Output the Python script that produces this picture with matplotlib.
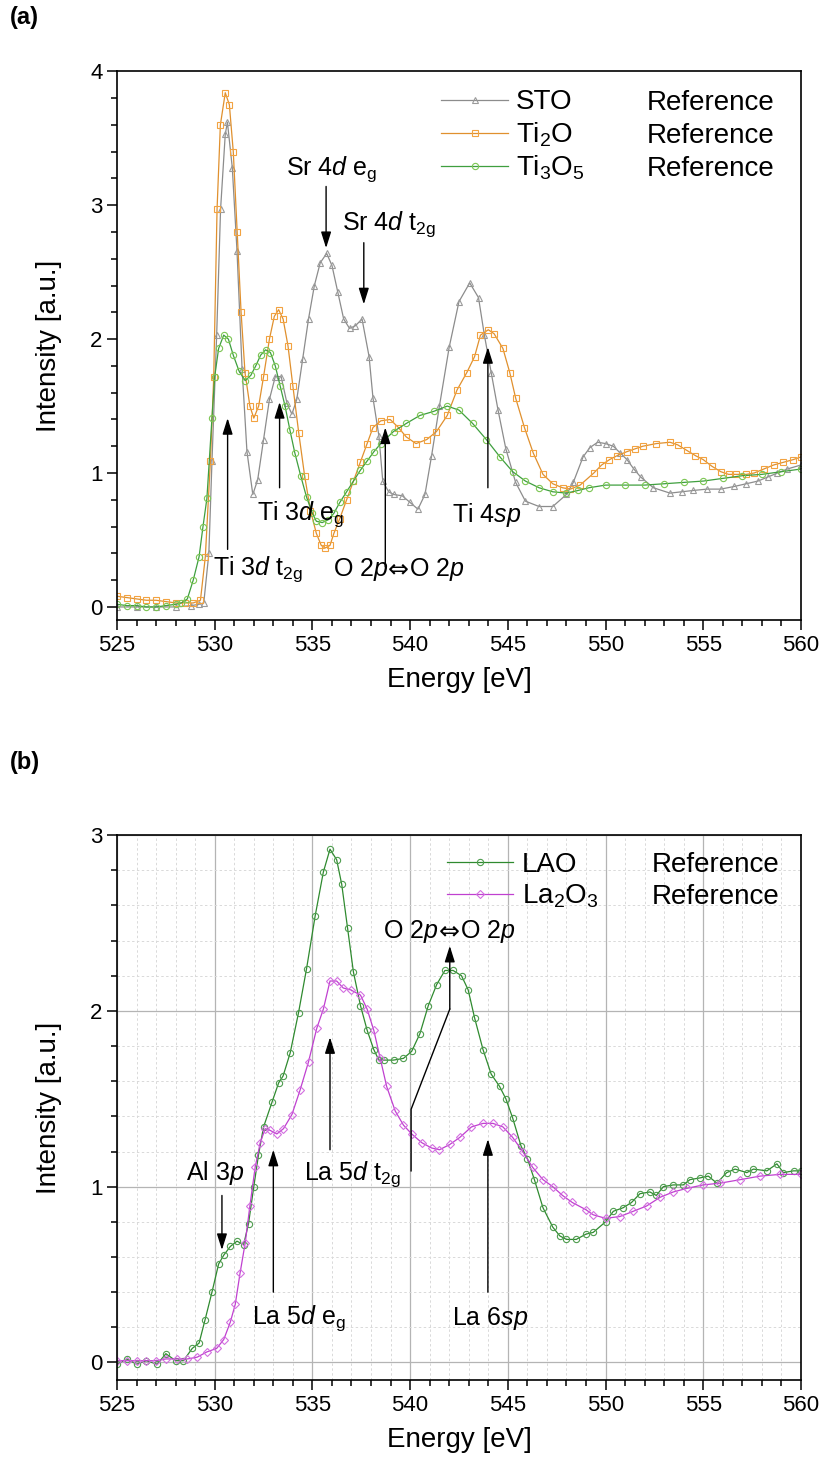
import numpy as np
import matplotlib
matplotlib.use('Agg')
import matplotlib.pyplot as plt
from matplotlib.ticker import MultipleLocator
from matplotlib.offsetbox import TextArea, HPacker, AnnotationBbox

plt.rcParams['font.family'] = ['Liberation Sans', 'DejaVu Sans']
plt.rcParams['mathtext.fontset'] = 'custom'
plt.rcParams['mathtext.rm'] = 'Liberation Sans'
plt.rcParams['mathtext.it'] = 'Liberation Sans:italic'
plt.rcParams['mathtext.bf'] = 'Liberation Sans:bold'

# ---------------- panel (a) data ----------------
sto_e = [525.0, 526.0, 527.0, 528.0, 528.8, 529.2, 529.44, 529.7, 529.86, 530.1, 530.3, 530.54, 530.65,
         530.9, 531.14, 531.4, 531.65, 531.95, 532.2, 532.5, 532.8, 533.1, 533.4, 533.7, 533.95, 534.2,
         534.5, 534.8, 535.1, 535.4, 535.73, 536.0, 536.3, 536.6, 536.9, 537.2, 537.54, 537.9, 538.1,
         538.4, 538.6, 538.9, 539.15, 539.6, 540.0, 540.4, 540.76, 541.1, 541.5, 542.0, 542.5, 543.05,
         543.5, 543.8, 544.15, 544.5, 544.9, 545.4, 545.9, 546.6, 547.3, 548.0, 548.35, 548.85, 549.2,
         549.6, 550.0, 550.4, 550.75, 551.1, 551.45, 551.8, 552.45, 553.3, 553.9, 554.5, 555.2, 555.9,
         556.6, 557.2, 557.8, 558.3, 558.8, 559.3, 560.0]
sto_i = [0.0, 0.0, 0.0, 0.0, 0.01, 0.02, 0.03, 0.4, 1.09, 2.03, 2.97, 3.53, 3.62,
         3.28, 2.66, 1.78, 1.16, 0.84, 0.95, 1.25, 1.55, 1.72, 1.72, 1.52, 1.44, 1.55,
         1.85, 2.15, 2.4, 2.57, 2.64, 2.55, 2.35, 2.15, 2.08, 2.1, 2.15, 1.87, 1.56,
         1.28, 0.94, 0.86, 0.84, 0.83, 0.78, 0.73, 0.84, 1.13, 1.5, 1.94, 2.28, 2.42,
         2.31, 2.03, 1.75, 1.47, 1.18, 0.93, 0.79, 0.75, 0.75, 0.84, 0.93, 1.12, 1.19,
         1.23, 1.22, 1.2, 1.15, 1.1, 1.03, 0.97, 0.89, 0.85, 0.86, 0.87, 0.88, 0.88,
         0.9, 0.92, 0.94, 0.97, 1.0, 1.03, 1.06]

ti2o_e = [525.0, 525.5, 526.0, 526.5, 527.0, 527.5, 528.0, 528.5, 528.9, 529.27, 529.52, 529.78, 529.95,
          530.12, 530.29, 530.54, 530.75, 530.95, 531.15, 531.35, 531.55, 531.8, 532.0, 532.25, 532.5,
          532.8, 533.05, 533.27, 533.5, 533.75, 534.0, 534.3, 534.6, 534.9, 535.2, 535.45, 535.65, 535.9,
          536.1, 536.4, 536.75, 537.1, 537.45, 537.8, 538.1, 538.5, 538.98, 539.4, 539.8, 540.3, 540.85,
          541.35, 541.9, 542.4, 542.9, 543.3, 543.6, 544.0, 544.3, 544.75, 545.1, 545.4, 545.85, 546.3,
          546.8, 547.3, 547.8, 548.2, 548.7, 549.4, 549.8, 550.2, 550.6, 551.1, 551.5, 551.9, 552.6,
          553.3, 553.7, 554.15, 554.6, 555.0, 555.45, 555.9, 556.3, 556.7, 557.2, 557.6, 558.1, 558.6,
          559.1, 559.6, 560.0]
ti2o_i = [0.08, 0.07, 0.06, 0.05, 0.05, 0.04, 0.03, 0.03, 0.03, 0.05, 0.375, 1.09, 1.72,
          2.97, 3.6, 3.84, 3.75, 3.4, 2.8, 2.2, 1.75, 1.5, 1.41, 1.5, 1.72,
          2.0, 2.17, 2.22, 2.15, 1.95, 1.65, 1.3, 0.98, 0.72, 0.55, 0.46, 0.44, 0.46,
          0.55, 0.66, 0.8, 0.94, 1.08, 1.22, 1.34, 1.39, 1.4, 1.34, 1.27, 1.22, 1.25,
          1.31, 1.43, 1.62, 1.75, 1.87, 2.03, 2.07, 2.04, 1.93, 1.75, 1.56, 1.34, 1.15,
          0.99, 0.92, 0.89, 0.88, 0.91, 1.0, 1.06, 1.1, 1.13, 1.16, 1.18, 1.2, 1.22,
          1.23, 1.21, 1.17, 1.13, 1.1, 1.05, 1.01, 0.99, 0.99, 0.99, 1.0, 1.03, 1.06,
          1.08, 1.1, 1.12]

ti3o5_e = [525.0, 525.5, 526.0, 526.5, 527.0, 527.5, 528.0, 528.3, 528.6, 528.9, 529.2, 529.4, 529.6,
           529.86, 530.0, 530.2, 530.46, 530.7, 530.95, 531.25, 531.56, 531.85, 532.1, 532.35, 532.6,
           532.85, 533.1, 533.35, 533.6, 533.85, 534.1, 534.4, 534.7, 535.0, 535.2, 535.5, 535.8, 536.1,
           536.4, 536.75, 537.1, 537.45, 537.8, 538.15, 538.5, 539.15, 539.8, 540.5, 541.2, 541.9, 542.5,
           543.2, 543.9, 544.6, 545.25, 545.9, 546.6, 547.3, 548.0, 548.6, 549.15, 550.0, 551.0, 552.0,
           553.0, 554.0, 555.0, 556.0, 557.0, 558.0, 559.0, 560.0]
ti3o5_i = [0.02, 0.01, 0.01, 0.0, 0.0, 0.01, 0.02, 0.03, 0.06, 0.2, 0.375, 0.6, 0.81,
           1.41, 1.72, 1.93, 2.03, 2.0, 1.88, 1.76, 1.69, 1.73, 1.8, 1.88, 1.92,
           1.9, 1.8, 1.65, 1.5, 1.32, 1.15, 0.98, 0.82, 0.7, 0.64, 0.63, 0.65, 0.7,
           0.78, 0.86, 0.94, 1.02, 1.09, 1.16, 1.22, 1.31, 1.37, 1.43, 1.46, 1.5, 1.47,
           1.37, 1.25, 1.12, 1.01, 0.94, 0.89, 0.86, 0.85, 0.87, 0.89, 0.91, 0.91, 0.91,
           0.92, 0.93, 0.94, 0.96, 0.98, 0.99, 1.01, 1.03]

# ---------------- panel (b) data ----------------
lao_e = [525.0, 525.5, 526.0, 526.5, 527.06, 527.5, 528.0, 528.4, 528.85, 529.2, 529.5, 529.86, 530.2,
         530.46, 530.8, 531.14, 531.48, 531.73, 532.0, 532.24, 532.5, 532.93, 533.27, 533.5, 533.86,
         534.29, 534.7, 535.14, 535.56, 535.9, 536.24, 536.5, 536.8, 537.1, 537.46, 537.8, 538.14,
         538.4, 538.64, 539.15, 539.66, 540.08, 540.5, 540.93, 541.36, 541.78, 542.2, 542.63, 542.97,
         543.3, 543.73, 544.15, 544.58, 544.9, 545.25, 545.68, 546.0, 546.36, 546.8, 547.3, 547.66,
         548.0, 548.5, 549.0, 549.37, 550.0, 550.4, 550.9, 551.33, 551.76, 552.27, 552.6, 552.96,
         553.47, 553.98, 554.32, 554.84, 555.26, 555.7, 556.2, 556.63, 557.23, 557.57, 558.26, 558.77,
         559.1, 559.62, 560.0]
lao_i = [-0.01, 0.02, -0.01, 0.01, -0.01, 0.05, 0.01, 0.01, 0.08, 0.11, 0.24, 0.4, 0.56,
         0.61, 0.66, 0.69, 0.67, 0.79, 1.0, 1.18, 1.34, 1.48, 1.59, 1.63, 1.76,
         1.99, 2.24, 2.54, 2.79, 2.92, 2.86, 2.72, 2.47, 2.22, 2.03, 1.89, 1.78,
         1.72, 1.72, 1.72, 1.73, 1.77, 1.87, 2.03, 2.15, 2.23, 2.23, 2.2, 2.12,
         1.96, 1.78, 1.64, 1.57, 1.5, 1.39, 1.23, 1.16, 1.04, 0.88, 0.77, 0.72,
         0.7, 0.7, 0.73, 0.74, 0.8, 0.86, 0.88, 0.91, 0.96, 0.97, 0.95, 1.0,
         1.01, 1.01, 1.04, 1.05, 1.06, 1.02, 1.08, 1.1, 1.08, 1.1, 1.09, 1.13,
         1.08, 1.09, 1.09]

la2o3_e = [525.0, 525.5, 526.0, 526.5, 527.0, 527.5, 528.08, 528.6, 529.1, 529.6, 530.1, 530.46, 530.8,
           531.05, 531.3, 531.56, 531.8, 532.07, 532.33, 532.58, 532.84, 533.18, 533.52, 533.95, 534.37,
           534.8, 535.22, 535.56, 535.9, 536.24, 536.58, 536.95, 537.46, 537.8, 538.14, 538.47, 538.8,
           539.24, 539.66, 540.08, 540.6, 541.1, 541.5, 542.03, 542.54, 543.14, 543.73, 544.24, 544.75,
           545.25, 545.76, 546.27, 546.8, 547.3, 547.8, 548.3, 548.98, 549.37, 550.0, 550.73, 551.42,
           552.1, 552.8, 553.47, 554.15, 555.0, 555.86, 556.9, 557.9, 558.94, 560.0]
la2o3_i = [0.01, 0.01, 0.01, 0.01, 0.01, 0.02, 0.02, 0.02, 0.03, 0.06, 0.08, 0.13, 0.23,
           0.33, 0.51, 0.68, 0.89, 1.11, 1.25, 1.33, 1.32, 1.3, 1.33, 1.41, 1.55,
           1.71, 1.9, 2.01, 2.17, 2.17, 2.13, 2.12, 2.09, 2.01, 1.89, 1.73, 1.57,
           1.43, 1.35, 1.3, 1.25, 1.22, 1.21, 1.24, 1.28, 1.34, 1.36, 1.36, 1.34,
           1.28, 1.2, 1.11, 1.04, 1.0, 0.95, 0.91, 0.87, 0.84, 0.82, 0.83, 0.86,
           0.89, 0.94, 0.97, 0.99, 1.01, 1.02, 1.04, 1.06, 1.07, 1.07]

TICK_FS = 16
LAB_FS = 20
ANN_FS = 18
LEG_FS = 20

fig = plt.figure(figsize=(8.24, 14.7), dpi=100)
ax_a = fig.add_axes([0.142, 0.578, 0.830, 0.3735])
ax_b = fig.add_axes([0.142, 0.0612, 0.830, 0.3707])


def style_axes(ax, ylim, ymaj):
    ax.set_xlim(525, 560)
    ax.set_ylim(*ylim)
    ax.xaxis.set_major_locator(MultipleLocator(5))
    ax.xaxis.set_minor_locator(MultipleLocator(1))
    ax.yaxis.set_major_locator(MultipleLocator(ymaj))
    ax.yaxis.set_minor_locator(MultipleLocator(0.2))
    ax.tick_params(which='both', direction='out', top=False, right=False, labelsize=TICK_FS, width=1.1)
    ax.tick_params(which='major', length=7)
    ax.tick_params(which='minor', length=4)
    for s in ax.spines.values():
        s.set_linewidth(1.2)
    ax.set_xlabel('Energy [eV]', fontsize=LAB_FS, labelpad=8)
    ax.set_ylabel('Intensity [a.u.]', fontsize=LAB_FS, labelpad=20)


def arrow(ax, x, y0, y1):
    ax.annotate('', xy=(x, y1), xytext=(x, y0),
                arrowprops=dict(arrowstyle='-|>,head_length=0.7,head_width=0.22', color='black',
                                lw=1.0, shrinkA=0, shrinkB=0, mutation_scale=14))


def series(ax, e, v, color, lcolor, marker, ms, label):
    return ax.plot(e, v, color=lcolor, lw=0.9, marker=marker, ms=ms, mfc='none', mec=color,
                   mew=0.8, label=label)[0]


def oo_label(ax, x, y):
    # "O 2p<=>O 2p": the double arrow comes from DejaVu Sans
    parts = [TextArea(r'O 2$\mathit{p}$', textprops=dict(fontsize=ANN_FS)),
             TextArea('\u21d4', textprops=dict(fontsize=ANN_FS, family='DejaVu Sans')),
             TextArea(r'O 2$\mathit{p}$', textprops=dict(fontsize=ANN_FS))]
    box = HPacker(children=parts, align='baseline', pad=0, sep=0)
    ab = AnnotationBbox(box, (x, y), xycoords='data', frameon=False, box_alignment=(0.5, 0.5), pad=0)
    ax.add_artist(ab)


# ---------------- panel (a) ----------------
h1 = series(ax_a, sto_e, sto_i, '#9a9a9a', '#8c8c8c', '^', 4.5, 'STO')
h2 = series(ax_a, ti2o_e, ti2o_i, '#f2a341', '#e0902e', 's', 4, r'Ti$_2$O')
h3 = series(ax_a, ti3o5_e, ti3o5_i, '#7cc653', '#3f9f3f', 'o', 4.5, r'Ti$_3$O$_5$')
style_axes(ax_a, (-0.1, 4), 1)

ax_a.legend(handles=[h1, h2, h3], loc='upper left', bbox_to_anchor=(0.474, 0.967),
            frameon=False, fontsize=LEG_FS, handlelength=2.4, handletextpad=0.3,
            borderpad=0, borderaxespad=0, labelspacing=0.18, numpoints=1)
for yy in [3.76, 3.52, 3.27]:
    ax_a.text(552.1, yy, 'Reference', fontsize=LEG_FS, va='center', ha='left')

ax_a.text(536.0, 3.27, r'Sr 4$\mathit{d}$ e$_\mathrm{g}$', fontsize=ANN_FS, ha='center', va='center')
arrow(ax_a, 535.7, 3.14, 2.68)
ax_a.text(538.9, 2.86, r'Sr 4$\mathit{d}$ t$_\mathrm{2g}$', fontsize=ANN_FS, ha='center', va='center')
arrow(ax_a, 537.63, 2.72, 2.26)
ax_a.text(532.2, 0.28, r'Ti 3$\mathit{d}$ t$_\mathrm{2g}$', fontsize=ANN_FS, ha='center', va='center')
arrow(ax_a, 530.66, 0.43, 1.41)
ax_a.text(534.4, 0.69, r'Ti 3$\mathit{d}$ e$_\mathrm{g}$', fontsize=ANN_FS, ha='center', va='center')
arrow(ax_a, 533.32, 0.89, 1.53)
oo_label(ax_a, 539.4, 0.28)
arrow(ax_a, 538.73, 0.30, 1.34)
ax_a.text(543.9, 0.69, r'Ti 4$\mathit{sp}$', fontsize=ANN_FS, ha='center', va='center')
arrow(ax_a, 543.98, 0.89, 1.94)

# ---------------- panel (b) ----------------
ax_b.grid(which='major', color='#b4b4b4', lw=0.9, ls='-')
ax_b.grid(which='minor', color='#d9d9d9', lw=0.7, ls=(0, (2.5, 2.5)))
ax_b.set_axisbelow(True)
g1 = series(ax_b, lao_e, lao_i, '#4f9d4f', '#2f8a2f', 'o', 4.5, 'LAO')
g2 = series(ax_b, la2o3_e, la2o3_i, '#d36fe0', '#c040d0', 'D', 4, r'La$_2$O$_3$')
style_axes(ax_b, (-0.1, 3), 1)

ax_b.legend(handles=[g1, g2], loc='upper left', bbox_to_anchor=(0.482, 0.969),
            frameon=False, fontsize=LEG_FS, handlelength=2.4, handletextpad=0.3,
            borderpad=0, borderaxespad=0, labelspacing=0.18, numpoints=1)
for yy in [2.83, 2.65]:
    ax_b.text(552.35, yy, 'Reference', fontsize=LEG_FS, va='center', ha='left')

ax_b.text(530.03, 1.08, r'Al 3$\mathit{p}$', fontsize=ANN_FS, ha='center', va='center')
arrow(ax_b, 530.37, 0.95, 0.64)
ax_b.text(534.3, 0.25, r'La 5$\mathit{d}$ e$_\mathrm{g}$', fontsize=ANN_FS, ha='center', va='center')
arrow(ax_b, 533.0, 0.40, 1.21)
ax_b.text(537.06, 1.07, r'La 5$\mathit{d}$ t$_\mathrm{2g}$', fontsize=ANN_FS, ha='center', va='center')
arrow(ax_b, 535.9, 1.21, 1.85)
oo_label(ax_b, 542.0, 2.45)
ax_b.plot([540.05, 540.05, 542.03], [1.09, 1.44, 2.01], color='black', lw=1.0)
arrow(ax_b, 542.03, 2.01, 2.37)
ax_b.text(544.1, 0.25, r'La 6$\mathit{sp}$', fontsize=ANN_FS, ha='center', va='center')
arrow(ax_b, 543.98, 0.40, 1.27)

fig.text(0.012, 0.988, '(a)', fontsize=17, fontweight='bold', va='center', ha='left')
fig.text(0.012, 0.4816, '(b)', fontsize=17, fontweight='bold', va='center', ha='left')

fig.savefig('out.png', dpi=100)
